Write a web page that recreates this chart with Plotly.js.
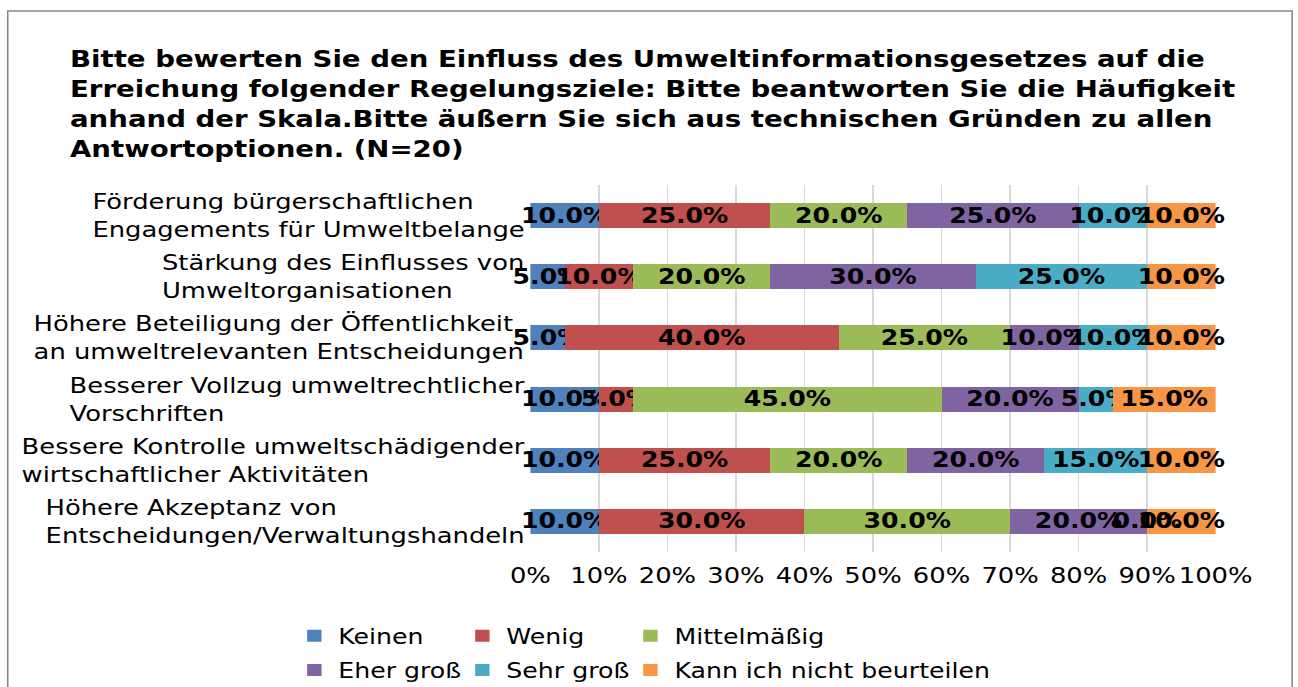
<!DOCTYPE html>
<html>
<head>
<meta charset="utf-8">
<script src="https://cdn.plot.ly/plotly-3.0.1.min.js"></script>
<style>
  html, body { margin: 0; padding: 0; background: #ffffff; overflow: hidden; }
  #wrap { width: 1298px; height: 687px; overflow: hidden; }
  #chart { transform-origin: 0 0; }
</style>
</head>
<body>
<div id="wrap"><div id="chart"></div></div>
<script>
const categories = [
  "Förderung bürgerschaftlichen<br>Engagements für Umweltbelange",
  "Stärkung des Einflusses von<br>Umweltorganisationen",
  "Höhere Beteiligung der Öffentlichkeit<br>an umweltrelevanten Entscheidungen",
  "Besserer Vollzug umweltrechtlicher<br>Vorschriften",
  "Bessere Kontrolle umweltschädigender<br>wirtschaftlicher Aktivitäten",
  "Höhere Akzeptanz von<br>Entscheidungen/Verwaltungshandeln"
];
const seriesNames = ["Keinen", "Wenig", "Mittelmäßig", "Eher groß", "Sehr groß", "Kann ich nicht beurteilen"];
const keinen        = [10, 5, 5, 10, 10, 10];
const wenig         = [25, 10, 40, 5, 25, 30];
const mittelmaessig = [20, 20, 25, 45, 20, 30];
const eherGross     = [25, 30, 10, 20, 20, 20];
const sehrGross     = [10, 25, 10, 5, 15, 0];
const kannNicht     = [10, 10, 10, 15, 10, 10];
const xTicks = [0, 10, 20, 30, 40, 50, 60, 70, 80, 90, 100];
const titleText = "Bitte bewerten Sie den Einfluss des Umweltinformationsgesetzes auf die<br>Erreichung folgender Regelungsziele: Bitte beantworten Sie die Häufigkeit<br>anhand der Skala.Bitte äußern Sie sich aus technischen Gründen zu allen<br>Antwortoptionen. (N=20)";

const colors = ["#4F81BD", "#C0504D", "#9BBB59", "#8064A2", "#4BACC6", "#F79646"];
const allValues = [keinen, wenig, mittelmaessig, eherGross, sehrGross, kannNicht];

// The reference is drawn horizontally stretched; render narrower and stretch.
const SX = 1.2;
const SW = 1298, H = 687;          // screen size
const W = SW / SX;                 // plotly width
const SL = 530, SR = 83, T = 185, B = 135;  // screen margins
const L = SL / SX, R = SR / SX;
const spw = SW - SL - SR, ph = H - T - B;
const px2x = p => (p - SL) / spw;          // screen px -> paper x
const py2y = p => (H - B - p) / ph;        // screen px -> paper y

document.getElementById("chart").style.width = W + "px";
document.getElementById("chart").style.height = H + "px";
document.getElementById("chart").style.transform = "scaleX(" + SX + ")";

const FONT = "DejaVu Sans";
const legendOf = ["legend", "legend2", "legend3", "legend", "legend2", "legend3"];

const traces = allValues.map((vals, i) => ({
  type: "bar",
  orientation: "h",
  name: seriesNames[i],
  legend: legendOf[i],
  legendgroup: "g" + i,
  y: categories.map((c, k) => k),
  x: vals,
  marker: { color: colors[i], line: { width: 0 } },
  text: vals.map(v => v.toFixed(1) + "%"),
  texttemplate: "%{text}",
  textposition: "inside",
  insidetextanchor: "middle",
  constraintext: "none",
  cliponaxis: false,
  textfont: { family: FONT, size: 21, color: "#000000", weight: "bold" },
  insidetextfont: { family: FONT, size: 21, color: "#000000", weight: "bold" },
  hoverinfo: "skip",
  showlegend: true
}));

const annotations = categories.map((c, k) => ({
  xref: "paper", yref: "y",
  x: px2x(526), y: k,
  xanchor: "right", yanchor: "middle",
  align: "left",
  text: c,
  showarrow: false,
  font: { family: FONT, size: 21.5, color: "#000000" }
}));

// labels of zero-width segments (bars of width 0 draw no text)
allValues.forEach((vals, i) => {
  vals.forEach((v, k) => {
    if (v === 0) {
      let start = 0;
      for (let j = 0; j < i; j++) start += allValues[j][k];
      annotations.push({
        xref: "x", yref: "y", x: start, y: k,
        xanchor: "center", yanchor: "middle",
        text: v.toFixed(1) + "%", showarrow: false,
        font: { family: FONT, size: 21, color: "#000000", weight: "bold" }
      });
    }
  });
});

const legendCommon = {
  orientation: "v",
  xanchor: "left", yanchor: "middle",
  y: py2y(653),
  font: { family: FONT, size: 21, color: "#000000" },
  bgcolor: "rgba(0,0,0,0)",
  borderwidth: 0,
  tracegroupgap: 4,
  traceorder: "grouped",
  itemclick: false, itemdoubleclick: false
};

const layout = {
  width: W, height: H,
  margin: { l: L, r: R, t: T, b: B, pad: 0, autoexpand: false },
  paper_bgcolor: "#ffffff",
  plot_bgcolor: "#ffffff",
  barmode: "stack",
  bargap: 0.59,
  title: {
    text: titleText,
    x: 70 / SW, xref: "container", xanchor: "left",
    y: 1 - 67 / H, yref: "container", yanchor: "top",
    font: { family: FONT, size: 23, color: "#000000", weight: "bold" }
  },
  xaxis: {
    range: [0, 100],
    tickvals: xTicks,
    ticktext: xTicks.map(v => v + "%"),
    showgrid: true, gridcolor: "#D9D9D9", gridwidth: 1,
    zeroline: false, showline: false,
    ticks: "",
    ticklabelstandoff: 9,
    tickfont: { family: FONT, size: 21.5, color: "#000000" },
    fixedrange: true
  },
  yaxis: {
    type: "linear",
    range: [categories.length - 0.5, -0.5],
    showgrid: false, zeroline: false, showline: false,
    showticklabels: false, ticks: "",
    fixedrange: true
  },
  legend:  Object.assign({}, legendCommon, { x: px2x(290) }),
  legend2: Object.assign({}, legendCommon, { x: px2x(458) }),
  legend3: Object.assign({}, legendCommon, { x: px2x(626) }),
  annotations: annotations,
  shapes: [{
    type: "rect", xref: "paper", yref: "paper",
    x0: px2x(7.5), x1: px2x(1291.5), y0: py2y(11), y1: py2y(700),
    line: { color: "#868686", width: 1.3 },
    fillcolor: "rgba(0,0,0,0)", layer: "above"
  }],
  showlegend: true
};

Plotly.newPlot("chart", traces, layout, { displayModeBar: false, staticPlot: true });
</script>
</body>
</html>
